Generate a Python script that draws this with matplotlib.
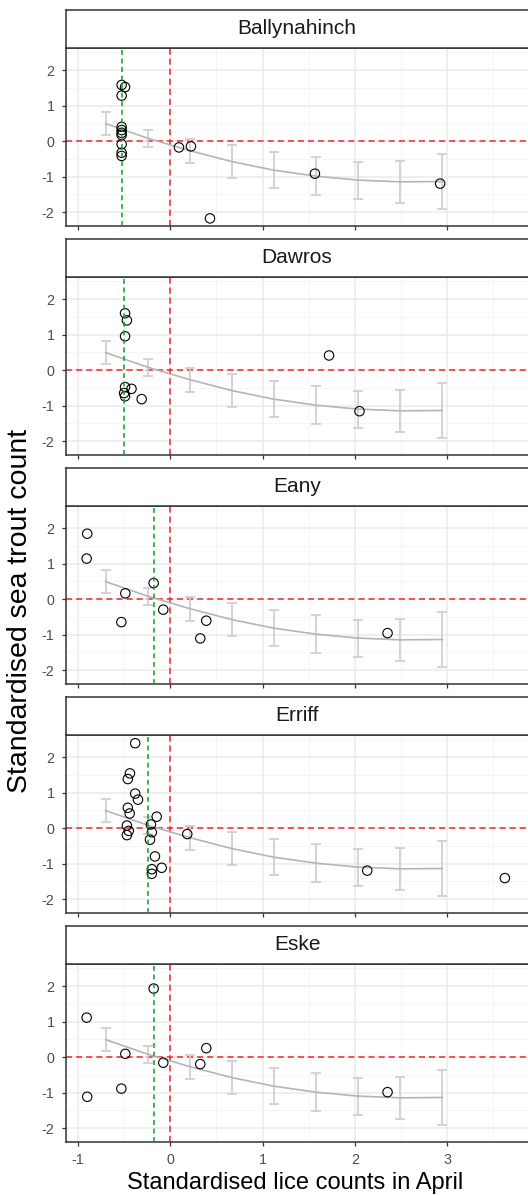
import matplotlib
matplotlib.use("Agg")
import matplotlib.pyplot as plt
from matplotlib.ticker import MultipleLocator, FixedLocator

plt.rcParams['font.family'] = ['Liberation Sans', 'DejaVu Sans']
plt.rcParams['axes.unicode_minus'] = False

sites = ['Ballynahinch', 'Dawros', 'Eany', 'Erriff', 'Eske']

# per-site standardised lice (x) and sea trout (y)
ballynahinch_x = [-0.527, -0.49, -0.527, -0.527, -0.527, -0.527, -0.527, -0.527, -0.527, -0.527,
                  0.094, 0.224, 0.43, 1.567, 2.924]
ballynahinch_y = [1.58, 1.52, 1.28, 0.40, 0.31, 0.23, 0.17, -0.09, -0.33, -0.42,
                  -0.18, -0.15, -2.18, -0.92, -1.20]
dawros_x = [-0.49, -0.47, -0.49, -0.49, -0.42, -0.50, -0.49, -0.31, 1.72, 2.05]
dawros_y = [1.60, 1.40, 0.95, -0.48, -0.53, -0.65, -0.74, -0.82, 0.41, -1.16]
eany_x = [-0.90, -0.906, -0.487, -0.53, -0.18, -0.076, 0.39, 0.325, 2.354]
eany_y = [1.84, 1.14, 0.16, -0.65, 0.45, -0.30, -0.61, -1.11, -0.96]
erriff_x = [-0.38, -0.437, -0.46, -0.38, -0.35, -0.46, -0.44, -0.47, -0.45, -0.47,
            -0.147, -0.21, -0.20, -0.22, -0.166, -0.093, -0.20, -0.20, 0.184, 2.134, 3.625]
erriff_y = [2.39, 1.54, 1.38, 0.97, 0.80, 0.57, 0.41, 0.07, -0.08, -0.20,
            0.32, 0.10, -0.12, -0.33, -0.80, -1.12, -1.16, -1.29, -0.17, -1.20, -1.41]
eske_x = [-0.18, -0.906, -0.90, -0.487, -0.53, -0.076, 0.39, 0.325, 2.354]
eske_y = [1.93, 1.11, -1.12, 0.09, -0.89, -0.16, 0.25, -0.20, -0.99]

site_x = [ballynahinch_x, dawros_x, eany_x, erriff_x, eske_x]
site_y = [ballynahinch_y, dawros_y, eany_y, erriff_y, eske_y]

# median lice per site (green line)
site_median = [-0.527, -0.498, -0.18, -0.238, -0.18]

# model prediction with intervals (same in every panel)
pred_x = [-0.70, -0.245, 0.21, 0.668, 1.12, 1.578, 2.03, 2.49, 2.947]
pred_mean = [0.49, 0.08, -0.27, -0.58, -0.82, -0.99, -1.10, -1.15, -1.14]
pred_lo = [0.16, -0.17, -0.62, -1.04, -1.33, -1.51, -1.62, -1.74, -1.91]
pred_hi = [0.82, 0.30, 0.05, -0.12, -0.31, -0.46, -0.59, -0.56, -0.36]

x_ticks = [-1, 0, 1, 2, 3]

W, H = 528, 1196
fig = plt.figure(figsize=(W / 100, H / 100), dpi=100)

left_px = 65.7
right_px = 565.0
px_per_unit = 92.3
strip_h = 37.7
panel_h = 178.5
step = 229.0
x_left = -1.133
x_right = x_left + (right_px - left_px) / px_per_unit

for i, site in enumerate(sites):
    strip_top = 10.0 + step * i
    panel_top = strip_top + strip_h
    ax = fig.add_axes([left_px / W, 1 - (panel_top + panel_h) / H,
                       (right_px - left_px) / W, panel_h / H])
    st = fig.add_axes([left_px / W, 1 - panel_top / H,
                       (right_px - left_px) / W, strip_h / H])

    # strip
    st.set_xticks([])
    st.set_yticks([])
    for s in st.spines.values():
        s.set_color('#333333')
        s.set_linewidth(1.1)
    st.text((297 - left_px) / (right_px - left_px), 0.5, site,
            transform=st.transAxes, ha='center', va='center', fontsize=15, color='#1a1a1a')

    # panel
    ax.set_xlim(x_left, x_right)
    ax.set_ylim(-2.40, 2.63)
    ax.xaxis.set_major_locator(FixedLocator(x_ticks))
    ax.xaxis.set_minor_locator(MultipleLocator(0.5))
    ax.yaxis.set_major_locator(MultipleLocator(1))
    ax.yaxis.set_minor_locator(MultipleLocator(0.5))
    ax.grid(which='major', color='#ebebeb', linewidth=1.1)
    ax.grid(which='minor', color='#f4f4f4', linewidth=0.6)
    ax.axvline(4, color='#ebebeb', linewidth=1.1, zorder=0)
    ax.set_axisbelow(True)
    for s in ax.spines.values():
        s.set_color('#333333')
        s.set_linewidth(1.1)
    ax.tick_params(which='minor', length=0)
    ax.tick_params(which='major', length=3, width=0.9, color='#333333',
                   labelsize=10.3, labelcolor='#4d4d4d')
    ax.tick_params(axis='y', pad=5)
    ax.tick_params(axis='x', pad=5)
    if i < len(sites) - 1:
        ax.tick_params(axis='x', which='major', labelbottom=False)

    ax.axhline(0, color='#f0282d', linestyle=(0, (4, 2.6)), linewidth=1.1, zorder=1)
    ax.axvline(0, color='#f0282d', linestyle=(0, (4, 2.6)), linewidth=1.1, zorder=1)

    yerr = [[m - lo for m, lo in zip(pred_mean, pred_lo)],
            [hi - m for m, hi in zip(pred_mean, pred_hi)]]
    ax.errorbar(pred_x, pred_mean, yerr=yerr, fmt='none', ecolor='#d0d0d0',
                elinewidth=1.3, capsize=3.6, capthick=1.3, zorder=2)
    ax.plot(pred_x, pred_mean, color='#b5b5b5', linewidth=1.2, zorder=2)

    ax.scatter(site_x[i], site_y[i], s=46, facecolors='none', edgecolors='black',
               linewidths=0.8, zorder=3)
    ax.axvline(site_median[i], color='#139a30', linestyle=(0, (3.2, 2.4)),
               linewidth=1.1, zorder=4)

fig.text(295.5 / W, 1 - 1183 / H, 'Standardised lice counts in April',
         ha='center', va='center', fontsize=17, color='black')
fig.text(20 / W, 1 - 611 / H, 'Standardised sea trout count', rotation=90,
         ha='center', va='center', fontsize=20.5, color='black')

fig.savefig('out.png', dpi=100)
